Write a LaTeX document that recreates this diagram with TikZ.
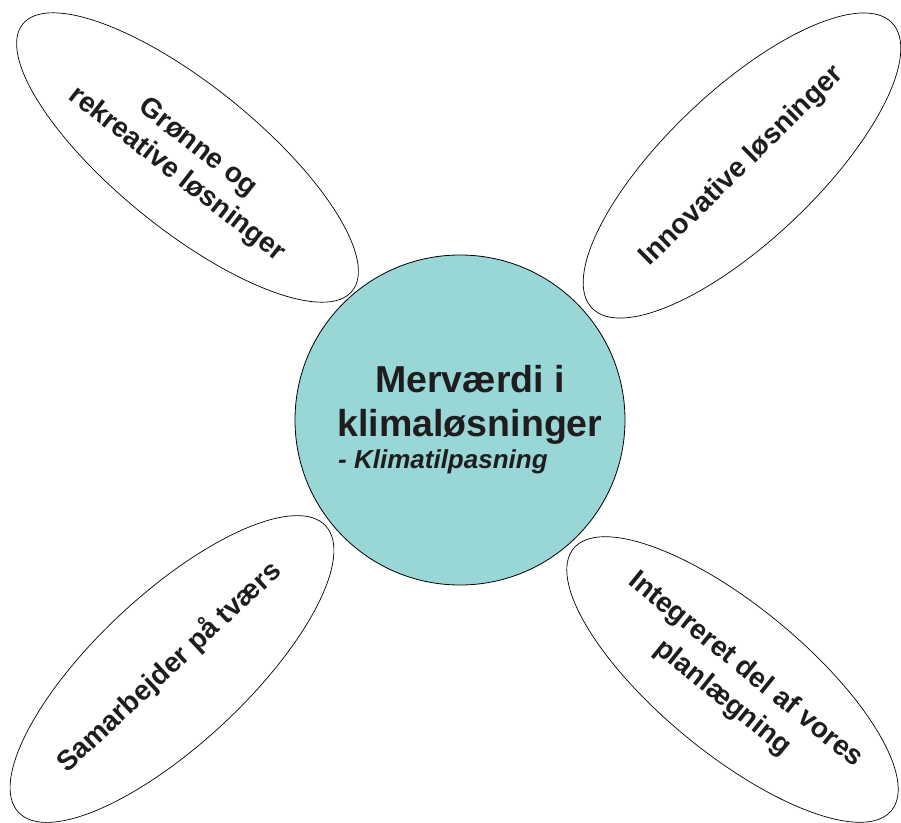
\documentclass[tikz,border=0pt]{standalone}
\usepackage{fontspec}
\setmainfont{Liberation Sans}
\usetikzlibrary{shapes.geometric}
\definecolor{teal1}{RGB}{153,214,214}
\definecolor{ink}{RGB}{30,28,30}
\begin{document}
\begin{tikzpicture}[x=1pt,y=-1pt,
  petal/.style={draw=black,line width=0.7pt,ellipse,inner sep=0pt,fill=white},
  petaltext/.style={text=ink,font=\bfseries\fontsize{28}{34}\selectfont,align=center,inner sep=0pt},
  hub/.style={draw=black,line width=0.8pt,circle,fill=teal1,inner sep=0pt,minimum size=330pt},
  hubtext/.style={text=ink,font=\bfseries\fontsize{37.5}{45}\selectfont,inner sep=0pt,anchor=base},
  subtext/.style={text=ink,font=\bfseries\itshape\fontsize{26}{30}\selectfont,inner sep=0pt,anchor=base west}]
\useasboundingbox (0,0) rectangle (901,822);
\fill[white] (0,0) rectangle (901,822);
% petals
\node[petal,minimum width=424pt,minimum height=144pt,rotate=-39] (tl) at (187.5,157.5) {};
\node[petal,minimum width=414pt,minimum height=150pt,rotate=43.5] (tr) at (742,165.5) {};
\node[petal,minimum width=420pt,minimum height=150pt,rotate=43] (bl) at (172,669) {};
\node[petal,minimum width=412pt,minimum height=147pt,rotate=-39.5] (br) at (732.5,679.5) {};
\node[petaltext,rotate=-38] (tlt) at (187,161.5) {Grønne og\\rekreative løsninger};
\node[petaltext,rotate=44.5] (trt) at (742,166) {Innovative løsninger};
\node[petaltext,rotate=43] (blt) at (169,667) {Samarbejder på tværs};
\node[petaltext,rotate=-39,font=\bfseries\fontsize{28}{36}\selectfont] (brt) at (734,684) {Integreret del af vores\\planlægning};
% hub
\node[hub] (hub) at (460,420) {};
\node[hubtext] (h1) at (470,392.5) {Merværdi i};
\node[hubtext] (h2) at (470,436.7) {klimaløsninger};
\node[subtext] (h3) at (338,468) {- Klimatilpasning};
\end{tikzpicture}
\end{document}
